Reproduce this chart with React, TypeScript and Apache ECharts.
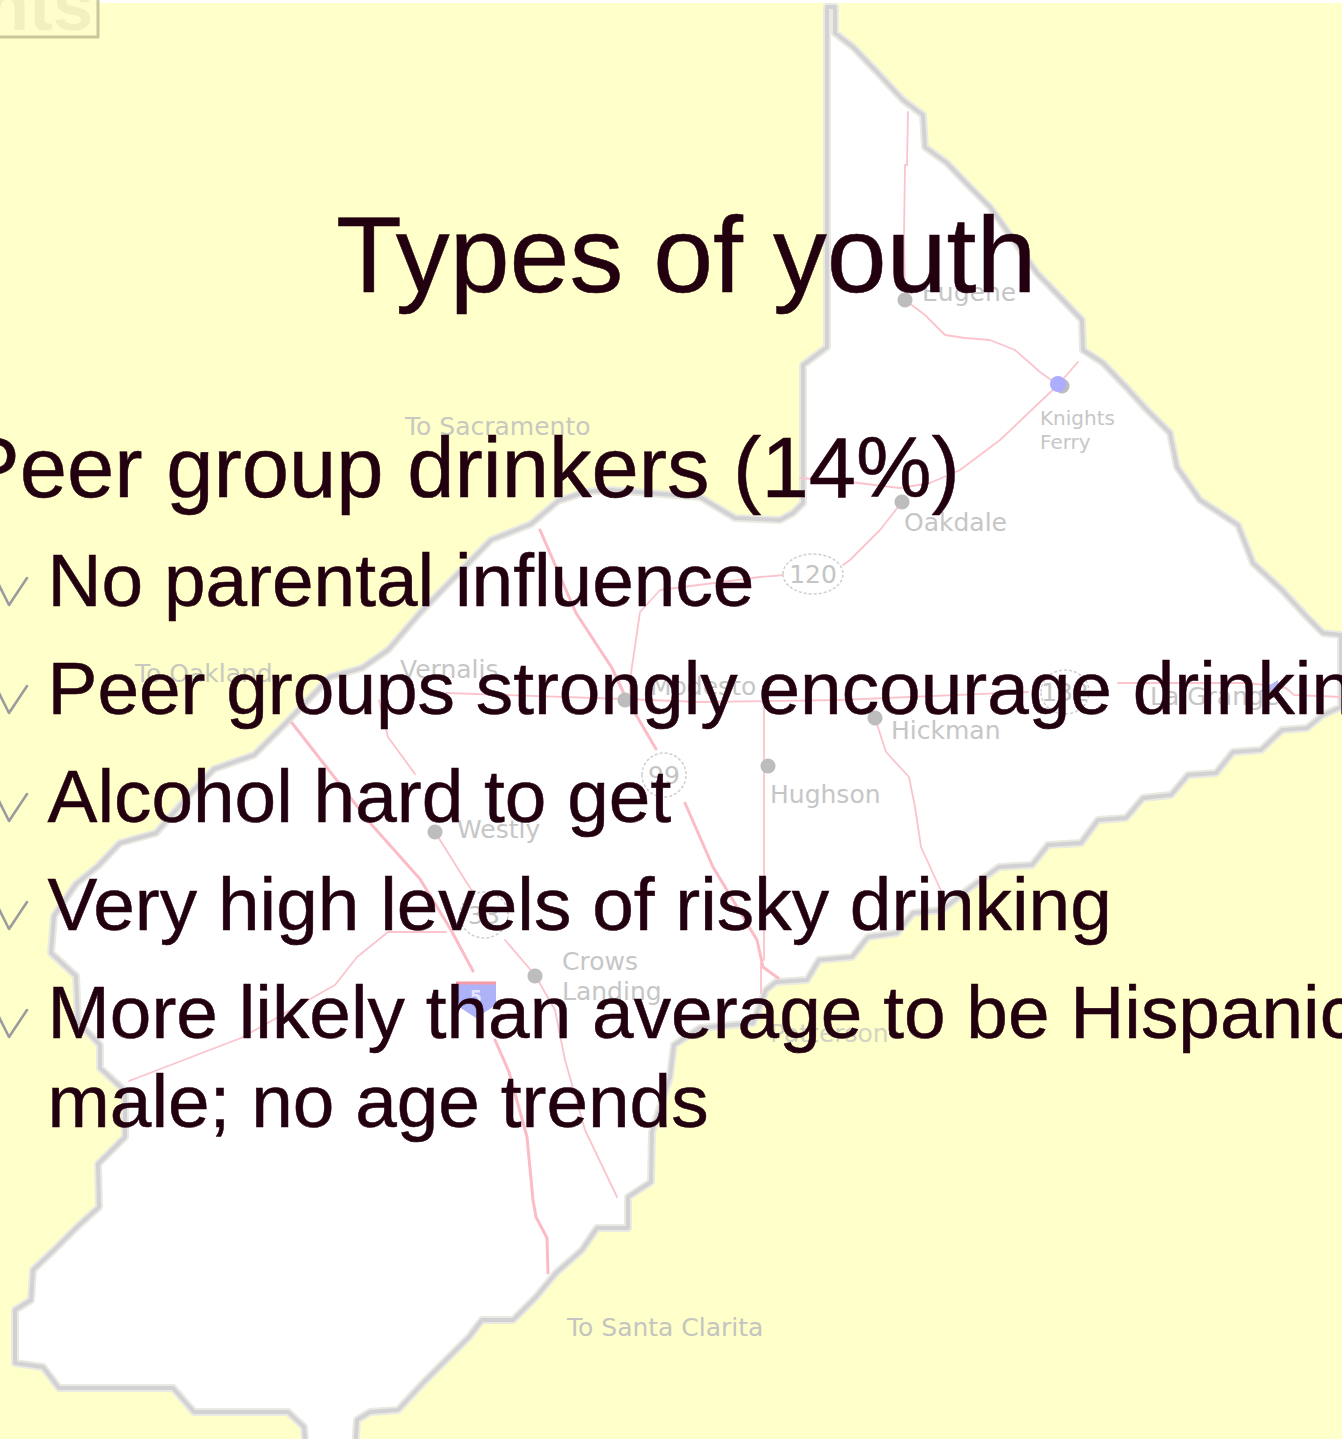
import React, { useEffect, useRef } from "react";
import * as echarts from "echarts";

const WIDTH = 1342;
const HEIGHT = 1439;

const titleText = "Types of youth";
const headingText = "Peer group drinkers (14%)";
const bulletTexts = [
  "No parental influence",
  "Peer groups strongly encourage drinking",
  "Alcohol hard to get",
  "Very high levels of risky drinking",
  "More likely than average to be Hispanic,",
];
const continuationText = "male; no age trends";
const bulletBaselines = [605, 713, 821, 929, 1037];

type Pt = [number, number];

const borderPoints: Pt[] = [
  [827, 7], [827, 347], [803, 365], [803, 503], [793, 513], [780, 520], [735, 518], [700, 497], [610, 490], [585, 492],
  [558, 501], [531, 524], [491, 540], [446, 586], [420, 613], [388, 650], [362, 668], [330, 677], [308, 700], [286, 723],
  [254, 755], [214, 769], [192, 792], [156, 833], [120, 843], [98, 866], [76, 884], [54, 916], [51, 953], [76, 976],
  [78, 1022], [100, 1045], [100, 1068], [125, 1091], [125, 1137], [98, 1164], [99, 1207], [77, 1227], [54, 1250],
  [33, 1270], [31, 1300], [15, 1310], [15, 1363], [43, 1367], [59, 1388], [173, 1388], [194, 1412], [288, 1412],
  [304, 1427], [306, 1450], [355, 1450], [357, 1420], [370, 1412], [398, 1410], [423, 1383], [444, 1362], [469, 1337],
  [482, 1320], [513, 1320], [536, 1297], [556, 1273], [582, 1250], [597, 1228], [628, 1228], [628, 1197], [651, 1182],
  [652, 1132], [670, 1077], [674, 1045], [700, 1028], [753, 1023], [766, 990], [776, 982], [807, 980], [819, 960],
  [852, 957], [868, 937], [897, 933], [913, 913], [942, 910], [970, 888], [999, 867], [1032, 865], [1048, 845],
  [1081, 843], [1098, 820], [1126, 818], [1143, 798], [1171, 795], [1188, 775], [1216, 773], [1233, 752], [1261, 750],
  [1282, 730], [1307, 728], [1323, 715], [1341, 707], [1341, 635], [1323, 633], [1307, 617], [1282, 590], [1253, 563],
  [1238, 525], [1200, 500], [1177, 467], [1170, 433], [1147, 410], [1127, 388], [1103, 363], [1083, 350], [1082, 320],
  [1063, 300], [1037, 273], [990, 207], [970, 187], [947, 163], [925, 147], [923, 115], [903, 100], [877, 72], [853, 47],
  [835, 33], [835, 7],
];

const thinRoads: Pt[][] = [
  [[908, 112], [907, 165], [905, 165], [904, 235], [905, 300], [925, 315], [945, 335], [965, 338], [990, 340], [1015, 350], [1040, 372], [1058, 385], [1078, 362]],
  [[1058, 385], [1040, 402], [1000, 440], [960, 470], [930, 483], [900, 488], [850, 482], [800, 478]],
  [[902, 502], [880, 530], [850, 560], [843, 565]],
  [[785, 575], [760, 577], [660, 590], [640, 612], [630, 680], [630, 695]],
  [[435, 832], [465, 880], [478, 900]],
  [[505, 940], [535, 975], [555, 1010], [565, 1060], [585, 1130], [617, 1197]],
  [[379, 700], [388, 737], [415, 774]],
  [[446, 932], [388, 932], [357, 957], [335, 985], [241, 1038], [129, 1081]],
  [[764, 703], [764, 960]],
  [[875, 718], [886, 752], [909, 777], [915, 807], [921, 847], [942, 893]],
  [[446, 693], [625, 699], [700, 702], [839, 700], [1028, 692]],
  [[1118, 683], [1249, 683], [1286, 688], [1294, 695], [1342, 697]],
  [[761, 963], [761, 993]],
];

const thickRoads: Pt[][] = [
  [[540, 530], [576, 613], [612, 668], [625, 696], [656, 749]],
  [[685, 803], [713, 867], [757, 940], [763, 967], [778, 978]],
  [[292, 723], [371, 824], [420, 879], [451, 930], [473, 971]],
  [[495, 1040], [509, 1072], [527, 1137], [533, 1200], [536, 1217], [547, 1238], [548, 1273]],
];

const townDots: Pt[] = [
  [905, 300], [1062, 386], [902, 502], [625, 700], [875, 718], [768, 766], [435, 832], [535, 976],
];

const mapLabels: { t: string; x: number; y: number; c?: string; s?: number }[] = [
  { t: "Eugene", x: 922, y: 301 },
  { t: "Knights", x: 1040, y: 427, s: 20 },
  { t: "Ferry", x: 1040, y: 451, s: 20 },
  { t: "Oakdale", x: 904, y: 531 },
  { t: "To Sacramento", x: 405, y: 435, c: "#c8c8c0" },
  { t: "To Oakland", x: 135, y: 682, c: "#c8c8c0" },
  { t: "Vernalis", x: 400, y: 678 },
  { t: "Modesto", x: 650, y: 695 },
  { t: "Hickman", x: 891, y: 739 },
  { t: "Hughson", x: 770, y: 803 },
  { t: "Westly", x: 457, y: 838 },
  { t: "Crows", x: 562, y: 970 },
  { t: "Landing", x: 562, y: 1000 },
  { t: "To Santa Clarita", x: 567, y: 1336, c: "#c4c4c0" },
  { t: "La Grange", x: 1150, y: 705 },
  { t: "Patterson", x: 770, y: 1042, c: "#d4d4c4" },
];

const routeShields: { t: string; x: number; y: number; rx: number; ry: number }[] = [
  { t: "120", x: 813, y: 574, rx: 30, ry: 20 },
  { t: "99", x: 664, y: 775, rx: 22, ry: 22 },
  { t: "33", x: 484, y: 915, rx: 24, ry: 23 },
  { t: "132", x: 1065, y: 692, rx: 24, ry: 22 },
];

const SANS = '"Liberation Sans", Arial, sans-serif';
const TEXT_COLOR = "#230010";

function slideText(text: string, x: number, baseline: number, size: number) {
  return {
    type: "text",
    x,
    y: baseline - size * 0.33,
    style: {
      text,
      fontFamily: SANS,
      fontSize: size,
      fill: TEXT_COLOR,
      stroke: TEXT_COLOR,
      lineWidth: 0.5,
      textAlign: "left",
      textVerticalAlign: "middle",
      verticalAlign: "middle",
    },
  };
}

function line(points: Pt[], stroke: string, lineWidth: number) {
  return {
    type: "polyline",
    shape: { points },
    style: { stroke, lineWidth, fill: "none", lineJoin: "round", lineCap: "round" },
  };
}

export default function App() {
  const ref = useRef<HTMLDivElement>(null);
  useEffect(() => {
    if (!ref.current) return;
    const chart = echarts.init(ref.current, undefined, { renderer: "svg" });
    const elements: any[] = [
      { type: "rect", shape: { x: 0, y: 0, width: WIDTH, height: HEIGHT }, style: { fill: "#ffffff" } },
      { type: "rect", shape: { x: 0, y: 3, width: WIDTH, height: HEIGHT }, style: { fill: "#ffffc9" } },
      // top-left clipped box
      { type: "rect", shape: { x: -6, y: -6, width: 104, height: 43 }, style: { fill: "#fffdcb", stroke: "#c9c89c", lineWidth: 3 } },
      {
        type: "text", x: 93, y: 5,
        style: { text: "nts", fontFamily: SANS, fontWeight: "bold", fontSize: 72, fill: "#f2f0c0", textAlign: "right", textVerticalAlign: "middle", verticalAlign: "middle" },
      },
      // county outline
      { type: "polygon", shape: { points: borderPoints }, style: { fill: "#ffffff", stroke: "#eaeae2", lineWidth: 8, lineJoin: "round" } },
      { type: "polygon", shape: { points: borderPoints }, style: { fill: "none", stroke: "#d2d2d5", lineWidth: 4, lineJoin: "round" } },
      ...thinRoads.map((r) => line(r, "#fbc4cc", 1.8)),
      ...thickRoads.map((r) => line(r, "#fbbcc6", 3)),
      // interstate shield
      { type: "polygon", shape: { points: [[456, 983], [496, 983], [496, 1005], [476, 1018], [456, 1005]] }, style: { fill: "#aeb2f8" } },
      { type: "line", shape: { x1: 456, y1: 983, x2: 496, y2: 983 }, style: { stroke: "#f59aa6", lineWidth: 3 } },
      { type: "text", x: 476, y: 997, style: { text: "5", fontFamily: "DejaVu Sans", fontSize: 17, fontWeight: "bold", fill: "#e6e6ff", textAlign: "center", textVerticalAlign: "middle", verticalAlign: "middle" } },
      // route shields
      ...routeShields.flatMap((s) => [
        { type: "ellipse", shape: { cx: s.x, cy: s.y, rx: s.rx, ry: s.ry }, style: { fill: "#ffffff", stroke: "#cfcfcf", lineWidth: 1.5, lineDash: [3, 2] } },
        { type: "text", x: s.x, y: s.y, style: { text: s.t, fontFamily: "DejaVu Sans", fontSize: 25, fill: "#c4c4c4", textAlign: "center", textVerticalAlign: "middle", verticalAlign: "middle" } },
      ]),
      // towns
      ...townDots.map(([cx, cy]) => ({ type: "circle", shape: { cx, cy, r: 7.5 }, style: { fill: "#bdbdbd" } })),
      { type: "circle", shape: { cx: 1058, cy: 384, r: 8 }, style: { fill: "#adadff" } },
      { type: "polygon", shape: { points: [[1258, 692], [1278, 680], [1280, 692]] }, style: { fill: "#b8baf8" } },
      ...mapLabels.map((l) => ({
        type: "text", x: l.x, y: l.y - 9,
        style: { text: l.t, fontFamily: "DejaVu Sans", fontSize: l.s || 25, fill: l.c || "#c6c6c6", textVerticalAlign: "middle", verticalAlign: "middle" },
      })),
      // check marks
      ...bulletBaselines.map((b) => line([[-2, b - 22], [9, b], [27, b - 27]], "#9c9ca0", 2.6)),
      // slide text
      slideText(titleText, 336, 291, 107.7),
      slideText(headingText, -37, 496, 85),
      ...bulletTexts.map((t, i) => slideText(t, 47.5, bulletBaselines[i], 74.8)),
      slideText(continuationText, 47.5, 1126, 74.8),
    ];
    chart.setOption({ animation: false, graphic: { elements } });
    return () => chart.dispose();
  }, []);
  return (
    <div
      ref={ref}
      style={{ position: "absolute", left: 0, top: 0, width: WIDTH, height: HEIGHT, overflow: "hidden" }}
    />
  );
}
